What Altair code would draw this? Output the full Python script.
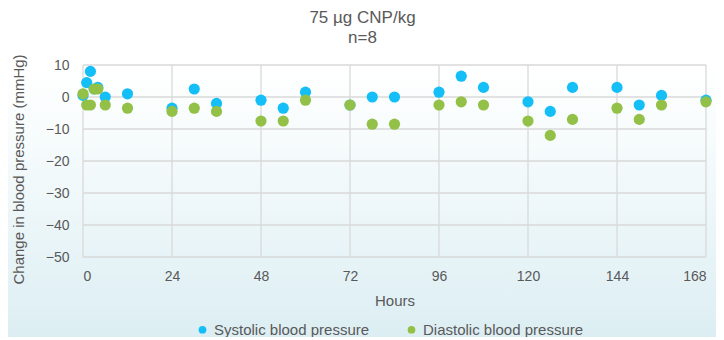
import altair as alt
import pandas as pd

hours = [0, 1, 2, 3, 4, 6, 12, 24, 30, 36, 48, 54, 60, 72, 78, 84, 96, 102, 108,
         120, 126, 132, 144, 150, 156, 168]
systolic = [0.5, 4.5, 8.0, 2.5, 3.0, 0.0, 1.0, -3.5, 2.5, -2.0, -1.0, -3.5, 1.5, -2.5,
            0.0, 0.0, 1.5, 6.5, 3.0, -1.5, -4.5, 3.0, 3.0, -2.5, 0.5, -1.0]
diastolic = [1.0, -2.5, -2.5, 2.5, 2.5, -2.5, -3.5, -4.5, -3.5, -4.5, -7.5, -7.5, -1.0, -2.5,
             -8.5, -8.5, -2.5, -1.5, -2.5, -7.5, -12.0, -7.0, -3.5, -7.0, -2.5, -1.5]
series_names = ["Systolic blood pressure", "Diastolic blood pressure"]
series_colors = ["#14BEF7", "#93C047"]
x_ticks = [0, 24, 48, 72, 96, 120, 144, 168]
y_ticks = [-50, -40, -30, -20, -10, 0, 10]

W, H = 623, 192
FONT = "Liberation Sans"
TXT = "#595959"

rows = []
for name, vals in zip(series_names, [systolic, diastolic]):
    for h, v in zip(hours, vals):
        rows.append({"Hours": h, "Value": v, "Series": name})
df = pd.DataFrame(rows)

xscale = alt.Scale(domain=[0, 168], nice=False, zero=False)
yscale = alt.Scale(domain=[-50, 10], nice=False, zero=False)
xaxis = alt.Axis(values=x_ticks, grid=False, ticks=False, domain=False,
                 labelPadding=12, title="Hours", titleBaseline="middle",
                 titleY=43, zindex=1)
yaxis = alt.Axis(values=y_ticks, grid=False, ticks=False, domain=False,
                 labelPadding=14, title="Change in blood pressure (mmHg)",
                 titleBaseline="middle", titleX=-65, titleY=104, zindex=1)

bg = alt.Chart(alt.Data(values=[{}])).mark_rect(
    clip=False,
    fill=alt.Gradient(
        gradient="linear",
        stops=[alt.GradientStop(color="#FFFFFF", offset=0),
               alt.GradientStop(color="#F6FBFC", offset=0.3),
               alt.GradientStop(color="#DCEEF3", offset=1)],
        x1=0, x2=0, y1=0, y2=1),
).encode(x=alt.value(-90), x2=alt.value(W + 30),
         y=alt.value(0), y2=alt.value(H + 80))

vgrid = alt.Chart(pd.DataFrame({"t": x_ticks})).mark_rule(
    color="#D9D9D9", strokeWidth=1.3
).encode(x=alt.X("t:Q", scale=xscale, axis=xaxis))

hgrid = alt.Chart(pd.DataFrame({"v": y_ticks})).mark_rule(
    color="#D9D9D9", strokeWidth=1.3
).encode(y=alt.Y("v:Q", scale=yscale, axis=yaxis))

points = alt.Chart(df).mark_circle(size=125, opacity=1).encode(
    x=alt.X("Hours:Q", scale=xscale, axis=xaxis),
    y=alt.Y("Value:Q", scale=yscale, axis=yaxis),
    color=alt.Color("Series:N",
                    scale=alt.Scale(domain=series_names, range=series_colors),
                    sort=series_names,
                    legend=alt.Legend(title=None, orient="none", direction="horizontal",
                                      legendX=112, legendY=257, symbolSize=60,
                                      symbolType="circle", labelOffset=4,
                                      labelLimit=300, columnPadding=34, zindex=1)),
)

chart = alt.layer(bg, vgrid, hgrid, points).properties(
    width=W, height=H,
    title=alt.TitleParams("75 µg CNP/kg", subtitle="n=8", anchor="middle",
                          dx=-32, dy=5, offset=12, fontSize=17, fontWeight="normal",
                          color=TXT, font=FONT, subtitleFont=FONT,
                          subtitleFontSize=17, subtitleColor=TXT,
                          subtitlePadding=3),
    autosize=alt.AutoSizeParams(type="none"),
    padding={"left": 75, "top": 57, "right": 10, "bottom": 80},
).configure_view(stroke=None).configure_axis(
    labelFont=FONT, titleFont=FONT, labelFontSize=14, titleFontSize=15,
    labelColor=TXT, titleColor=TXT, titleFontWeight="normal"
).configure_legend(
    labelFont=FONT, labelFontSize=15, labelColor=TXT
)

chart.save("out.html", embed_options={"renderer": "svg", "actions": False})
